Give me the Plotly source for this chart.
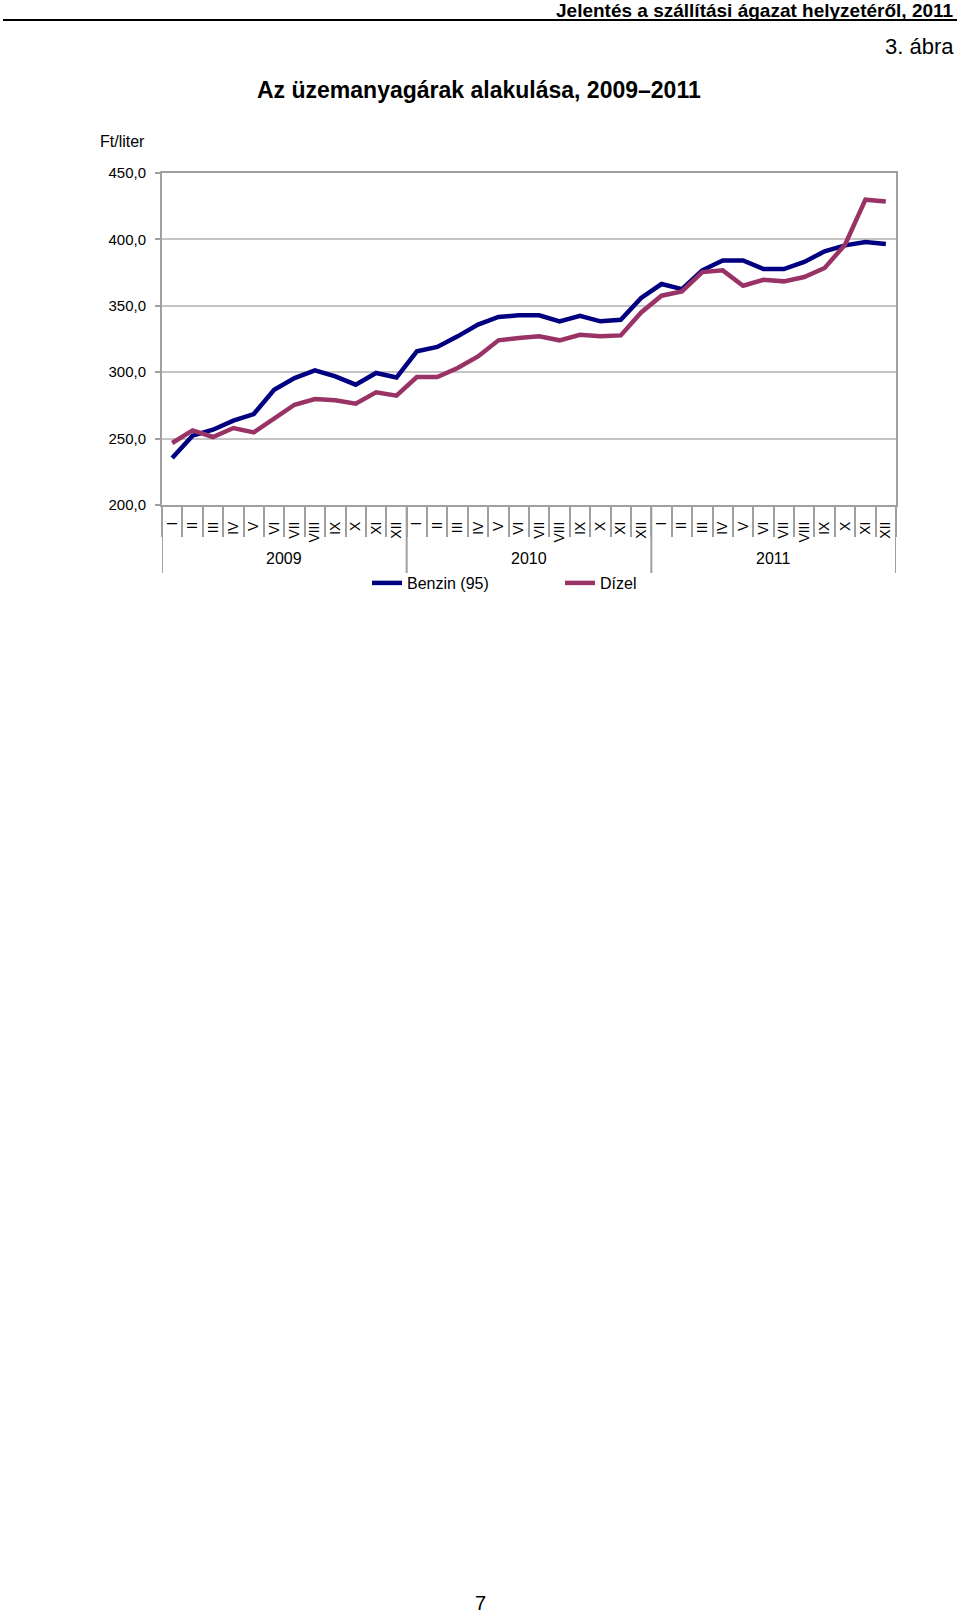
import plotly.graph_objects as go

# ---- data ----
years = ["2009", "2010", "2011"]
months = ["I", "II", "III", "IV", "V", "VI", "VII", "VIII", "IX", "X", "XI", "XII"]
benzin = [235.4, 252.2, 256.7, 263.5, 268.5, 286.8, 295.6, 301.4, 296.8, 290.6, 299.4, 296.0,
          315.7, 319.0, 327.0, 335.8, 341.6, 342.8, 342.8, 338.3, 342.5, 338.3, 339.5, 355.9,
          366.4, 362.6, 376.7, 384.2, 384.2, 377.7, 377.7, 383.0, 391.0, 395.5, 398.0, 396.5]
dizel = [246.7, 256.2, 251.2, 258.0, 254.7, 265.5, 275.5, 279.8, 278.8, 276.3, 284.8, 282.3,
         296.4, 296.4, 303.2, 311.9, 324.0, 325.7, 327.0, 324.0, 328.2, 327.0, 327.7, 345.0,
         357.6, 360.8, 375.4, 376.7, 365.1, 369.6, 368.4, 371.7, 378.5, 396.0, 429.9, 428.6]
y_ticks = [200, 250, 300, 350, 400, 450]

# ---- geometry helpers ----
W, H = 960, 1613
L, R, T, B = 162, 64, 173, 1108
PW, PH = W - L - R, H - T - B


def xp(px):
    return (px - L) / PW


def yp(py):
    return (H - B - py) / PH


n = len(benzin)
x_idx = list(range(n))
tick_text = [months[i % 12] for i in range(n)]
bounds = [i - 0.5 for i in range(n + 1)]
year_bounds = [i * 12 - 0.5 for i in range(len(years) + 1)]
year_centers = [i * 12 + 5.5 for i in range(len(years))]

FONT = "Arial, Liberation Sans, sans-serif"
AXC = "#a0a0a0"
GRC = "#c4c4c4"

fig = go.Figure()
fig.add_trace(go.Scatter(x=x_idx, y=benzin, mode="lines", name="Benzin (95)",
                         line=dict(color="#000080", width=4.5)))
fig.add_trace(go.Scatter(x=x_idx, y=dizel, mode="lines", name="Dízel",
                         line=dict(color="#993366", width=4.5)))

fig.update_layout(
    width=W, height=H,
    margin=dict(l=L, r=R, t=T, b=B, autoexpand=False),
    paper_bgcolor="white", plot_bgcolor="white",
    separators=", ",
    font=dict(family=FONT, color="#000000", size=15),
    showlegend=True,
    legend=dict(orientation="h", x=xp(367), y=yp(583), xanchor="left", yanchor="middle",
                font=dict(size=16, family=FONT), entrywidth=148, entrywidthmode="pixels",
                bgcolor="rgba(0,0,0,0)"),
)

fig.update_yaxes(range=[200, 450], tickvals=y_ticks, tickformat=".1f",
                 showgrid=True, gridcolor=GRC, gridwidth=1.5,
                 showline=True, linecolor=AXC, linewidth=2, mirror=True,
                 ticks="outside", ticklen=5, tickcolor=AXC, tickwidth=1.5,
                 tickfont=dict(size=15), zeroline=False, ticklabelstandoff=6)

fig.update_xaxes(range=[-0.5, n - 0.5], tickmode="array", tickvals=x_idx, ticktext=tick_text,
                 tickangle=-90, tickfont=dict(size=14), ticks="",
                 showgrid=False, zeroline=False,
                 showline=True, linecolor=AXC, linewidth=2, mirror=True,
                 minor=dict(tickmode="array", tickvals=bounds, ticks="outside", ticklen=30,
                            tickcolor=AXC, tickwidth=1.5, showgrid=False),
                 ticklabelstandoff=9)

# year dividers
for xb in year_bounds:
    fig.add_shape(type="line", xref="x", yref="paper", x0=xb, x1=xb, y0=0, y1=yp(573),
                  line=dict(color=AXC, width=2))

# year labels
for yr, xc in zip(years, year_centers):
    fig.add_annotation(x=xc, xref="x", y=yp(558), yref="paper", text=yr, showarrow=False,
                       xanchor="center", yanchor="middle", font=dict(size=16))

# unit label
fig.add_annotation(x=xp(147), xref="paper", y=yp(142), yref="paper", text="Ft/liter",
                   showarrow=False, xanchor="right", yanchor="middle", font=dict(size=16))

# header
fig.add_shape(type="line", xref="paper", yref="paper", x0=xp(3), x1=xp(957), y0=yp(20), y1=yp(20),
              line=dict(color="#000000", width=2))
fig.add_annotation(x=xp(955), xref="paper", y=yp(10.8), yref="paper",
                   text="<b>Jelentés a szállítási ágazat helyzetéről, 2011</b>",
                   showarrow=False, xanchor="right", yanchor="middle", font=dict(size=19),
                   borderpad=0)
fig.add_annotation(x=xp(956), xref="paper", y=yp(47), yref="paper", text="3. ábra",
                   showarrow=False, xanchor="right", yanchor="middle", font=dict(size=22))
fig.add_annotation(x=xp(479), xref="paper", y=yp(90), yref="paper",
                   text="<b>Az üzemanyagárak alakulása, 2009–2011</b>",
                   showarrow=False, xanchor="center", yanchor="middle", font=dict(size=23))
fig.add_annotation(x=xp(480), xref="paper", y=yp(1603), yref="paper", text="7",
                   showarrow=False, xanchor="center", yanchor="middle", font=dict(size=20))

fig.write_html("out.html")
